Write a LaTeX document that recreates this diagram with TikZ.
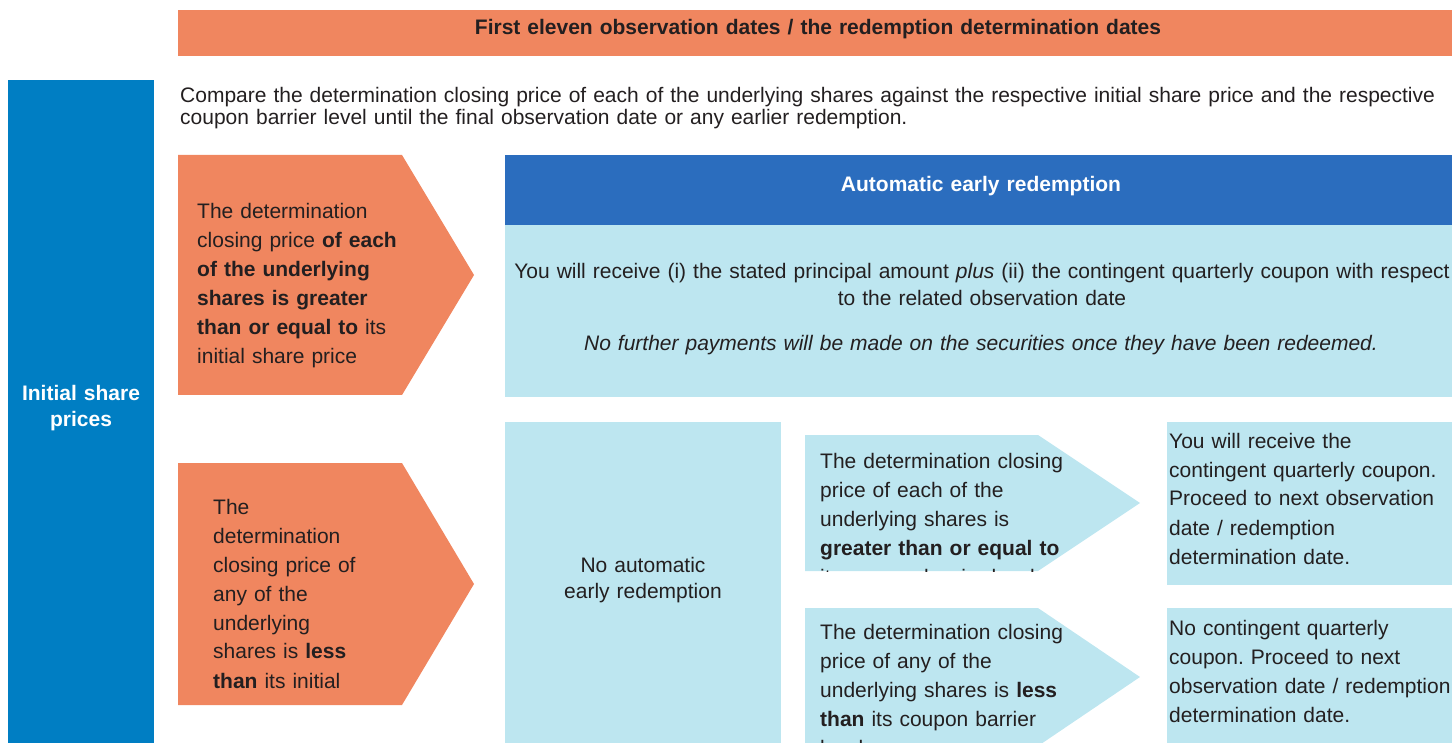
\documentclass[tikz,border=0pt]{standalone}
\usepackage{fontspec}
\setmainfont{Liberation Sans}
\usepackage{tikz}
\frenchspacing

\definecolor{salmon}{HTML}{F0865F}
\definecolor{seablue}{HTML}{007EC3}
\definecolor{headblue}{HTML}{2B6DBE}
\definecolor{pale}{HTML}{BDE6F0}
\definecolor{ink}{HTML}{231F20}

\begin{document}
\begin{tikzpicture}[x=1pt,y=-1pt]
        \tikzset{body/.style = {font=\fontsize{21}{29}\selectfont,text=ink,inner sep=0pt,
                                align=left,anchor=base west,text width=320pt}}
        \tikzset{mid/.style = {body,align=center,anchor=base,text width=#1}}
        \tikzset{head/.style = {mid=#1,text=white,font=\fontsize{21}{22}\selectfont\bfseries}}

        \path[use as bounding box,clip] (0,0) rectangle (1452,743);

        % bands and boxes
        \fill[salmon] (178,10) rectangle (1460,56);
        \fill[seablue] (8,80) rectangle (154,750);
        \fill[headblue] (505,155) rectangle (1460,225);
        \fill[pale] (505,225) rectangle (1460,397);
        \fill[pale] (505,422) rectangle (781,750);
        \fill[pale] (1167,422) rectangle (1460,585);
        \fill[pale] (1167,608) rectangle (1460,750);

        % arrow shapes
        \fill[salmon] (178,155) -- (402,155) -- (474,275) -- (402,395) -- (178,395) -- cycle;
        \fill[salmon] (178,463) -- (402,463) -- (474,584) -- (402,705) -- (178,705) -- cycle;
        \fill[pale] (805,435) -- (1038,435) -- (1140,503) -- (1038,571) -- (805,571) -- cycle;
        \fill[pale] (805,608) -- (1038,608) -- (1140,677) -- (1038,746) -- (805,746) -- cycle;

        \node[head=1200pt,text=ink] (T) at (818,35)
            {First eleven observation dates / the redemption determination dates};
        \node[head=140pt,font=\fontsize{21}{27}\selectfont\bfseries] (ISP) at (81,400)
            {Initial share\\prices};

        \node[body,font=\fontsize{21}{22}\selectfont,text width=1300pt] (Cmp) at (180,103)
            {Compare the determination closing price of each of the underlying shares against the respective initial share price and the respective\\
             coupon barrier level until the final observation date or any earlier redemption.};

        \node[body] (A1) at (197,219)
            {The determination\\closing price \textbf{of each}\\\textbf{of the underlying}\\
             \textbf{shares is greater}\\\textbf{than or equal to} its\\initial share price};
        \node[body] (A2) at (213,514)
            {The\\determination\\closing price of\\any of the\\underlying\\
             shares is \textbf{less}\\\textbf{than} its initial};

        \node[head=900pt] (AER) at (981,192) {Automatic early redemption};
        \node[mid=1000pt,font=\fontsize{21}{27}\selectfont] (Pay) at (982,279)
            {You will receive (i) the stated principal amount \textit{plus} (ii) the contingent quarterly coupon with respect\\
             to the related observation date};
        \node[mid=1000pt] (NoPay) at (981,351)
            {\itshape No further payments will be made on the securities once they have been redeemed.};

        \node[mid=270pt,font=\fontsize{21}{26}\selectfont] (NoAER) at (643,572)
            {No automatic\\early redemption};

        \begin{scope}
            \clip (805,435) -- (1038,435) -- (1140,503) -- (1038,571) -- (805,571) -- cycle;
            \node[body] (B1) at (820,468)
                {The determination closing\\price of each of the\\underlying shares is\\
                 \textbf{greater than or equal to}\\its coupon barrier level};
        \end{scope}
        \node[body] (B2) at (820,639)
            {The determination closing\\price of any of the\\underlying shares is \textbf{less}\\
             \textbf{than} its coupon barrier\\level.};

        \node[body] (R1) at (1169,448)
            {You will receive the\\contingent quarterly coupon.\\Proceed to next observation\\
             date / redemption\\determination date.};
        \node[body] (R2) at (1169,635)
            {No contingent quarterly\\coupon. Proceed to next\\observation date / redemption\\
             determination date.};
\end{tikzpicture}
\end{document}
